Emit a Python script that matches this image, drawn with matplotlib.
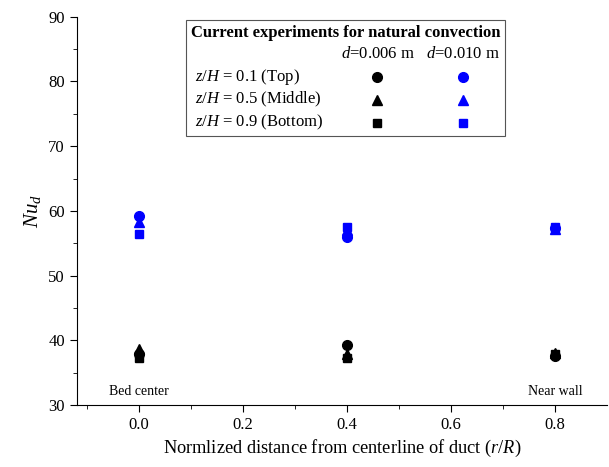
import matplotlib.pyplot as plt
from matplotlib.patches import Rectangle

plt.rcParams['font.family'] = ['Liberation Serif', 'DejaVu Serif']
plt.rcParams['mathtext.fontset'] = 'custom'
plt.rcParams['mathtext.rm'] = 'Liberation Serif'
plt.rcParams['mathtext.it'] = 'Liberation Serif:italic'

# r/R positions
r = [0.0, 0.4, 0.8]

# d = 0.006 m (black)
top_006 = [37.8, 39.2, 37.5]
mid_006 = [38.7, 37.8, 38.0]
bot_006 = [37.3, 37.3, 37.9]

# d = 0.010 m (blue)
top_010 = [59.2, 56.0, 57.3]
mid_010 = [58.2, 57.0, 57.2]
bot_010 = [56.4, 57.5, 57.5]

fig = plt.figure(figsize=(6.09, 4.67), dpi=100)
ax = fig.add_axes([0.126, 0.133, 0.871, 0.831])

ms = 7
ax.plot(r, top_006, "o", color="black", ms=ms)
ax.plot(r, mid_006, "^", color="black", ms=ms)
ax.plot(r, bot_006, "s", color="black", ms=ms-1)
ax.plot(r, top_010, "o", color="blue", ms=ms)
ax.plot(r, mid_010, "^", color="blue", ms=ms)
ax.plot(r, bot_010, "s", color="blue", ms=ms-1)

ax.set_xlim(-0.12, 0.9)
ax.set_ylim(30, 90)
ax.set_xticks([0.0, 0.2, 0.4, 0.6, 0.8])
ax.set_xticks([-0.1, 0.1, 0.3, 0.5, 0.7], minor=True)
ax.set_yticks(range(30, 91, 10))
ax.set_yticks(range(35, 90, 10), minor=True)
ax.tick_params(which="major", direction="out", length=5, labelsize=12)
ax.tick_params(which="minor", direction="out", length=3)
ax.spines["top"].set_visible(False)
ax.spines["right"].set_visible(False)

ax.set_xlabel("Normlized distance from centerline of duct ($r$/$R$)", fontsize=13.2)
ax.set_ylabel("$Nu_d$", fontsize=15)

ax.text(0.0, 32.0, "Bed center", ha="center", va="center", fontsize=10)
ax.text(0.8, 32.0, "Near wall", ha="center", va="center", fontsize=10)

# legend box (placed in pixel-like coordinates of the axes)
tr = ax.transAxes
def fx(px):
    return (px - 77) / 530.0
def fy(py):
    return (405 - py) / 388.0

fs = 12
ax.add_patch(Rectangle((fx(186), fy(136)), fx(505) - fx(186), fy(20) - fy(136),
                       transform=tr, fill=False, edgecolor="#555555", lw=0.8))
ax.text(fx(346), fy(33), "Current experiments for natural convection",
        transform=tr, ha="center", va="center", fontsize=fs, fontweight="bold")
ax.text(fx(378), fy(54), "$d$=0.006 m", transform=tr, ha="center", va="center", fontsize=fs)
ax.text(fx(463), fy(54), "$d$=0.010 m", transform=tr, ha="center", va="center", fontsize=fs)
rows = ["$z$/$H$ = 0.1 (Top)", "$z$/$H$ = 0.5 (Middle)", "$z$/$H$ = 0.9 (Bottom)"]
marks = ["o", "^", "s"]
for i, (lab, m) in enumerate(zip(rows, marks)):
    yy = fy(77 + 23 * i)
    ax.text(fx(195), yy, lab, transform=tr, ha="left", va="center", fontsize=fs)
    ax.plot([fx(377)], [yy], m, color="black", ms=ms if m != "s" else ms-1, transform=tr, clip_on=False)
    ax.plot([fx(463)], [yy], m, color="blue", ms=ms if m != "s" else ms-1, transform=tr, clip_on=False)

fig.savefig("out.png", dpi=100)
